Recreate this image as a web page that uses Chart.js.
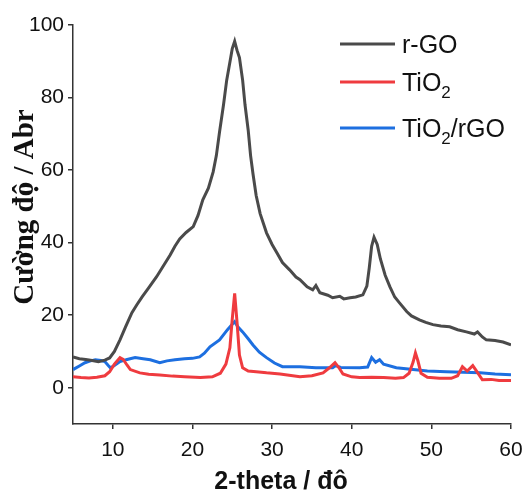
<!DOCTYPE html>
<html>
<head>
<meta charset="utf-8">
<script src="https://cdn.jsdelivr.net/npm/chart.js@4"></script>
<style>
  body { margin: 0; background: #fff; }
  canvas { display: block; }
</style>
</head>
<body>
<canvas id="canvas" width="523" height="493"></canvas>
<script>
// XRD patterns: 2-theta (degrees) vs intensity
const rgoX = [5, 5.8, 6.6, 7.4, 8.2, 9.0, 9.6, 10.2, 10.9, 11.6, 12.4, 13.0, 13.7, 14.5, 15.5, 16.3, 17.2, 17.8, 18.4, 19.2, 20.1, 20.7, 21.3, 22.0, 22.6, 23.0, 23.4, 23.9, 24.3, 24.8, 25.0, 25.3, 25.6, 25.9, 26.3, 26.6, 27.0, 27.3, 27.6, 28.0, 28.5, 29.3, 30.0, 30.6, 31.3, 32.2, 33.0, 33.5, 34.4, 35.1, 35.5, 36.0, 37.0, 37.6, 38.5, 39.0, 39.8, 40.5, 41.4, 41.9, 42.2, 42.5, 42.8, 43.2, 43.6, 44.2, 44.8, 45.4, 46.0, 46.9, 47.5, 48.5, 49.3, 50.2, 51.2, 52.3, 53.3, 54.4, 55.4, 55.8, 56.4, 56.9, 58.0, 59.0, 60.0];
const rgoY = [8.5, 8.0, 7.8, 7.5, 7.2, 7.6, 8.2, 10.0, 13.2, 16.8, 20.7, 22.8, 25.1, 27.5, 30.6, 33.4, 36.6, 39.0, 41.0, 42.8, 44.4, 47.5, 51.8, 55.0, 59.5, 64.0, 70.5, 78.0, 84.8, 91.0, 93.5, 95.5, 93.0, 91.0, 84.8, 78.0, 71.0, 64.0, 59.0, 53.0, 48.0, 42.7, 39.5, 37.2, 34.5, 32.5, 30.5, 29.8, 27.8, 27.0, 28.2, 26.2, 25.5, 24.8, 25.2, 24.5, 24.8, 25.0, 25.6, 28.0, 33.0, 39.0, 41.5, 39.5, 35.5, 31.0, 27.8, 25.0, 23.4, 21.0, 19.8, 18.7, 18.0, 17.4, 17.0, 16.8, 16.0, 15.4, 14.8, 15.4, 14.0, 13.2, 13.0, 12.6, 11.8];

const tio2X = [5, 6, 7, 8, 9, 9.6, 10.2, 10.9, 11.3, 11.8, 12.2, 13.4, 14.5, 15.9, 17.5, 19, 21, 22.5, 23.5, 24.2, 24.7, 25.0, 25.3, 25.6, 25.9, 26.3, 27, 28, 29.3, 31, 33.5, 35, 36.4, 37.2, 37.9, 38.4, 38.9, 40, 41, 42.5, 44, 45.5, 46.5, 47.2, 47.7, 48.0, 48.3, 48.7, 49.5, 51, 52.5, 53.3, 53.9, 54.5, 55.2, 55.7, 56.4, 57.5, 58.5, 60];
const tio2Y = [3.0, 2.8, 2.7, 2.9, 3.3, 4.4, 6.5, 8.3, 7.8, 6.2, 5.0, 4.1, 3.7, 3.5, 3.2, 3.0, 2.8, 3.0, 4.0, 6.5, 11, 19, 26.0, 18, 9, 5.5, 4.6, 4.4, 4.1, 3.8, 3.0, 3.3, 4.1, 5.5, 6.9, 5.5, 3.8, 3.0, 2.8, 2.9, 2.8, 2.6, 2.8, 4.0, 7.0, 9.6, 7.5, 4.0, 2.9, 2.6, 2.6, 3.3, 5.8, 4.6, 6.1, 4.5, 2.2, 2.3, 2.0, 2.0];

const compX = [5, 5.8, 6.5, 7.2, 7.8, 8.5, 9.0, 9.4, 9.7, 10.2, 10.9, 11.8, 12.8, 13.8, 14.7, 15.9, 16.8, 17.8, 19, 20.0, 20.9, 21.5, 22.2, 23.4, 24.4, 25.0, 25.3, 25.7, 26.3, 27.0, 27.6, 28.4, 29.3, 30.3, 31.3, 33.5, 35.5, 37.6, 38.0, 38.6, 41, 42.0, 42.5, 43.0, 43.5, 44.0, 45.6, 47.7, 49.5, 51.9, 54, 56.1, 58, 60];
const compY = [5.0, 6.0, 6.9, 7.4, 7.7, 7.5, 7.2, 6.2, 5.5, 6.1, 7.2, 7.8, 8.3, 8.0, 7.7, 6.9, 7.4, 7.7, 8.0, 8.1, 8.5, 9.5, 11.3, 13.2, 16.0, 17.5, 18.2, 16.8, 15.4, 13.5, 11.8, 9.8, 8.3, 6.8, 5.8, 5.8, 5.5, 5.5, 6.1, 5.6, 5.5, 5.7, 8.3, 7.0, 7.7, 6.5, 5.5, 5.0, 4.6, 4.4, 4.3, 4.1, 3.8, 3.6];

const xTicks = [10, 20, 30, 40, 50, 60];
const yTicks = [0, 20, 40, 60, 80, 100];

const GRAY = "#4a4a4a";
const RED = "#ef3b3f";
const BLUE = "#1d6fe0";

function toPoints(xs, ys) {
  return xs.map((x, i) => ({ x: x, y: ys[i] }));
}

function lineSet(label, xs, ys, color) {
  return {
    label: label,
    data: toPoints(xs, ys),
    borderColor: color,
    backgroundColor: color,
    borderWidth: 3,
    pointRadius: 0,
    showLine: true,
    tension: 0,
  };
}

// legend + axis titles, drawn by hand (subscripts, exact spots)
const decor = {
  id: "decor",
  afterDraw(chart) {
    const ctx = chart.ctx;
    ctx.save();

    const rows = [
      { color: GRAY, y: 44, parts: [["r-GO", false]] },
      { color: RED, y: 82, parts: [["TiO", false], ["2", true]] },
      { color: BLUE, y: 128, parts: [["TiO", false], ["2", true], ["/rGO", false]] },
    ];
    rows.forEach((row) => {
      ctx.strokeStyle = row.color;
      ctx.lineWidth = 3;
      ctx.beginPath();
      ctx.moveTo(340, row.y);
      ctx.lineTo(395, row.y);
      ctx.stroke();

      let x = 402;
      ctx.fillStyle = "#111";
      ctx.textAlign = "left";
      ctx.textBaseline = "alphabetic";
      row.parts.forEach(([txt, sub]) => {
        ctx.font = sub ? "17px 'Liberation Sans', Arial" : "25px 'Liberation Sans', Arial";
        ctx.fillText(txt, x, row.y + (sub ? 16 : 9));
        x += ctx.measureText(txt).width;
      });
    });

    ctx.fillStyle = "#111";
    ctx.font = "bold 25px 'Liberation Sans', Arial";
    ctx.textAlign = "center";
    ctx.textBaseline = "alphabetic";
    ctx.fillText("2-theta / đô", 281, 489);

    ctx.translate(33, 207);
    ctx.rotate(-Math.PI / 2);
    ctx.font = "bold 29px 'Liberation Serif', 'Times New Roman', serif";
    ctx.fillText("Cường độ / Abr", 0, 0);
    ctx.restore();
  },
};

const axisColor = "#333";

const config = {
  type: "scatter",
  data: {
    datasets: [
      lineSet("r-GO", rgoX, rgoY, GRAY),
      lineSet("TiO2", tio2X, tio2Y, RED),
      lineSet("TiO2/rGO", compX, compY, BLUE),
    ],
  },
  options: {
    responsive: false,
    animation: false,
    layout: { padding: { top: 25, right: 12, left: 0, bottom: 0 } },
    plugins: {
      legend: { display: false },
      tooltip: { enabled: false },
    },
    scales: {
      x: {
        type: "linear",
        min: 5,
        max: 60,
        afterBuildTicks: (scale) => {
          scale.ticks = xTicks.map((v) => ({ value: v }));
        },
        afterFit: (scale) => {
          scale.height = 69;
          scale.paddingLeft = 0;
          scale.paddingRight = 0;
        },
        ticks: {
          font: { family: "'Liberation Sans', Arial", size: 21 },
          color: "#111",
          padding: 9,
          maxRotation: 0,
        },
        grid: {
          drawOnChartArea: false,
          tickLength: 5,
          color: axisColor,
          lineWidth: 1.5,
        },
        border: { color: axisColor, width: 1.5 },
      },
      y: {
        min: -10,
        max: 100,
        afterBuildTicks: (scale) => {
          scale.ticks = yTicks.map((v) => ({ value: v }));
        },
        afterFit: (scale) => {
          scale.width = 73;
          scale.paddingTop = 0;
          scale.paddingBottom = 0;
        },
        ticks: {
          font: { family: "'Liberation Sans', Arial", size: 21 },
          color: "#111",
          padding: 4,
        },
        grid: {
          drawOnChartArea: false,
          tickLength: 5,
          color: axisColor,
          lineWidth: 1.5,
        },
        border: { color: axisColor, width: 1.5 },
      },
    },
  },
  plugins: [decor],
};

window.onload = function () {
  const ctx = document.getElementById("canvas").getContext("2d");
  new Chart(ctx, config);
};
</script>
</body>
</html>
